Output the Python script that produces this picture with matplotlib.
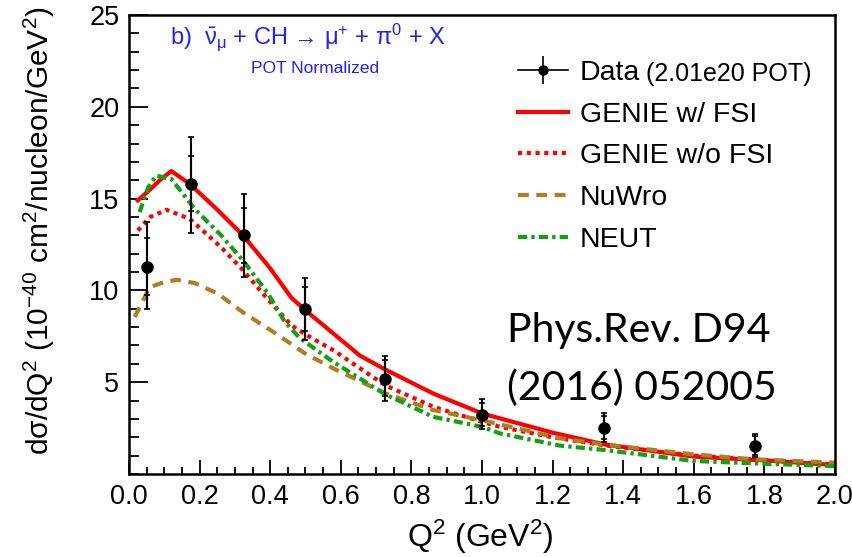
import numpy as np
import matplotlib
matplotlib.use("Agg")
import matplotlib.pyplot as plt
from matplotlib.ticker import MultipleLocator, FixedLocator

plt.rcParams['font.family'] = ['Liberation Sans', 'DejaVu Sans']
plt.rcParams['mathtext.fontset'] = 'custom'
plt.rcParams['mathtext.rm'] = 'Liberation Sans'
plt.rcParams['mathtext.it'] = 'Liberation Sans:italic'
plt.rcParams['mathtext.default'] = 'regular'

# data points (Q2 in GeV2, xsec in 1e-40 cm2/nucleon/GeV2)
q2 = np.array([0.05, 0.175, 0.326, 0.5, 0.725, 1.0, 1.347, 1.773])
xsec = np.array([11.3, 15.8, 13.0, 9.0, 5.2, 3.2, 2.52, 1.54])
tot_lo = np.array([9.0, 13.1, 10.75, 7.28, 3.98, 2.45, 1.76, 0.94])
tot_hi = np.array([13.7, 18.37, 15.25, 10.67, 6.41, 4.1, 3.30, 2.17])
stat_lo = np.array([9.75, 14.3, 11.5, 7.77, 4.24, 2.6, 1.9, 1.05])
stat_hi = np.array([12.85, 17.3, 14.5, 10.18, 6.2, 3.85, 3.15, 2.05])

# model curves
genie_fsi_x = [0.025, 0.06, 0.09, 0.12, 0.172, 0.25, 0.323, 0.40, 0.46, 0.507,
               0.579, 0.654, 0.725, 0.862, 1.0, 1.051, 1.2, 1.35, 1.6, 1.8, 2.0]
genie_fsi_y = [14.9, 15.5, 16.05, 16.5, 15.8, 14.4, 13.0, 11.2, 9.6, 8.8,
               7.65, 6.45, 5.7, 4.38, 3.3, 3.03, 2.25, 1.6, 0.95, 0.74, 0.49]

genie_nofsi_x = [0.025, 0.06, 0.106, 0.172, 0.261, 0.323, 0.394, 0.46, 0.5, 0.579,
                 0.725, 0.862, 1.0, 1.051, 1.2, 1.35, 1.6, 1.8, 2.0]
genie_nofsi_y = [13.26, 14.0, 14.39, 13.9, 12.35, 11.1, 9.5, 8.1, 7.6, 6.74,
                 4.84, 3.66, 2.84, 2.57, 2.0, 1.55, 1.0, 0.75, 0.52]

nuwro_x = [0.016, 0.04, 0.059, 0.092, 0.134, 0.186, 0.252, 0.323, 0.404, 0.5, 0.579,
           0.725, 0.862, 1.0, 1.051, 1.22, 1.35, 1.6, 1.77, 2.0]
nuwro_y = [8.55, 9.46, 10.18, 10.4, 10.58, 10.4, 9.82, 8.8, 7.8, 6.55, 5.75,
           4.4, 3.48, 2.93, 2.7, 1.95, 1.6, 1.07, 0.8, 0.62]

neut_x = [0.03, 0.054, 0.077, 0.12, 0.186, 0.261, 0.323, 0.394, 0.441, 0.484, 0.579,
          0.725, 0.862, 1.0, 1.051, 1.22, 1.35, 1.6, 1.77, 2.0]
neut_y = [14.26, 15.6, 16.25, 16.07, 14.44, 13.0, 11.63, 9.82, 8.3, 7.4, 6.1,
          4.35, 3.11, 2.57, 2.21, 1.55, 1.3, 0.71, 0.58, 0.43]

red = '#ff0000'
brown = '#b07d24'
green = '#14a014'
blue = '#2020ff'

fig = plt.figure(figsize=(8.53, 5.57), dpi=100)
ax = fig.add_axes([129/853, 1 - 474/557, (835 - 129)/853, (474 - 15)/557])

ax.plot(genie_fsi_x, genie_fsi_y, color=red, lw=3, solid_joinstyle='round', label='GENIE w/ FSI')
ax.plot(genie_nofsi_x, genie_nofsi_y, color=red, lw=3, dashes=(1, 1.1), label='GENIE w/o FSI')
ax.plot(nuwro_x, nuwro_y, color=brown, lw=3, dashes=(2.6, 1.8), label='NuWro')
ax.plot(neut_x, neut_y, color=green, lw=3, dashes=(2.2, 1.0, 0.8, 1.0), label='NEUT')
curves = ax.get_lines()[:4]

# stat (inner) and total error bars
ax.errorbar(q2, xsec, yerr=[xsec - stat_lo, stat_hi - xsec], fmt='none',
            ecolor='black', elinewidth=1.5, capsize=2.5, capthick=1.2)
ax.errorbar(q2, xsec, yerr=[xsec - tot_lo, tot_hi - xsec], fmt='o',
            color='black', ms=8, elinewidth=1.5, capsize=2.5, capthick=1.2)
# legend proxy: marker + horizontal line + vertical bar
data_proxy = ax.errorbar([], [], yerr=[], fmt='-o', color='black', ms=6.5,
                         lw=1.2, elinewidth=1.2)

ax.set_xlim(0, 2.0)
ax.set_ylim(0, 25)
ax.xaxis.set_major_locator(MultipleLocator(0.2))
ax.xaxis.set_minor_locator(MultipleLocator(0.05))
ax.xaxis.set_major_formatter(matplotlib.ticker.FormatStrFormatter('%.1f'))
ax.yaxis.set_major_locator(FixedLocator([5, 10, 15, 20, 25]))
ax.yaxis.set_minor_locator(MultipleLocator(1))
ax.tick_params(axis='both', which='both', direction='in', labelsize=19.5, width=1.3)
ax.tick_params(axis='x', which='major', length=10, pad=7)
ax.tick_params(axis='x', which='minor', length=5)
ax.tick_params(axis='y', which='major', length=14, pad=7)
ax.tick_params(axis='y', which='minor', length=7)
for s in ax.spines.values():
    s.set_linewidth(1.8)

fig.text(39/853, 1 - 231/557,
         r'd$\sigma$/dQ$^{2}$ (10$^{-40}$ cm$^{2}$/nucleon/GeV$^{2}$)',
         rotation=90, ha='center', va='center', fontsize=21.5)
fig.text(480/853, 1 - 547/557, r'Q$^{2}$ (GeV$^{2}$)', ha='center', va='baseline',
         fontsize=23)

fig.text(170/853, 1 - 37/557,
         'b)  ' + r'$\bar{\nu}_{\mu}$' + ' + CH \u2192 ' + r'$\mu^{+}$ + $\pi^{0}$ + X',
         color=blue, fontsize=17, ha='left', va='center')
fig.text(315/853, 1 - 68/557, 'POT Normalized', color=blue, fontsize=12.5,
         ha='center', va='center')

handles = [data_proxy] + curves
labels = ['Data', 'GENIE w/ FSI', 'GENIE w/o FSI', 'NuWro', 'NEUT']
leg = ax.legend(handles, labels, loc='upper left', bbox_to_anchor=(518/853, 1 - 60/557),
                bbox_transform=fig.transFigure, frameon=False, fontsize=20.5,
                handlelength=1.75, handletextpad=0.42, labelspacing=0.55,
                borderpad=0, borderaxespad=0)

fig.canvas.draw()
bb = leg.get_texts()[0].get_window_extent()
x_after, y_after = fig.transFigure.inverted().transform((bb.x1 + 6, bb.y0))
fig.text(x_after, y_after, '(2.01e20 POT)', fontsize=18, ha='left', va='bottom')

fig.text(507/853, 1 - 342/557, 'Phys.Rev. D94', family='Lato', fontsize=29.5,
         ha='left', va='baseline')
fig.text(507/853, 1 - 400/557, '(2016) 052005', family='Lato', fontsize=29.5,
         ha='left', va='baseline')

fig.savefig('out.png', dpi=100)
